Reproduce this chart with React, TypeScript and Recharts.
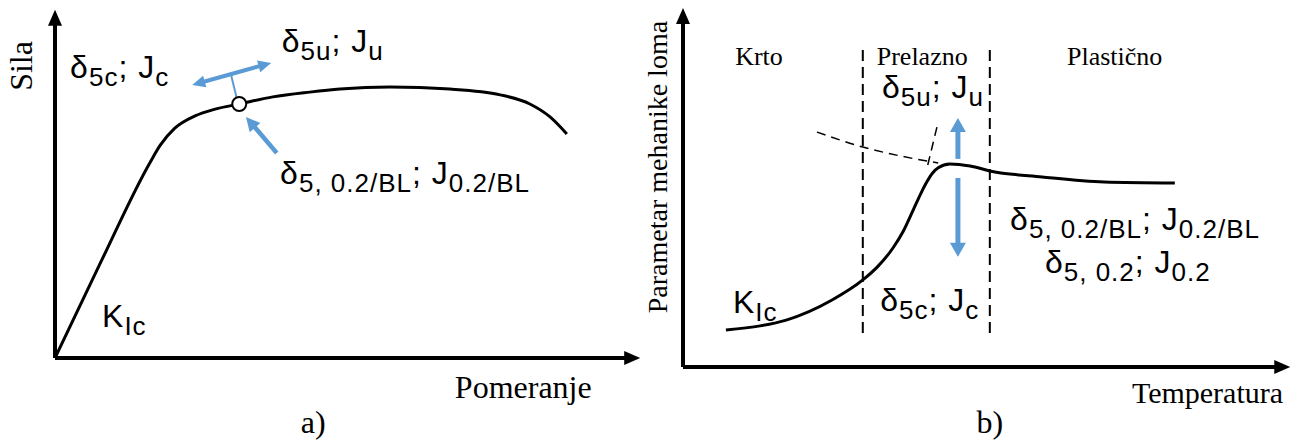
import React from 'react';
import { LineChart, Line, XAxis, YAxis, ReferenceLine, ReferenceDot } from 'recharts';

// ---------- Panel a) : Sila vs Pomeranje ----------
const forceCurve = [
  { x: 0, y: 0 },
  { x: 8.0, y: 27.6 },
  { x: 17.0, y: 57.6 },
  { x: 18.8, y: 62.6 },
  { x: 21.4, y: 67.6 },
  { x: 25.0, y: 71.2 },
  { x: 28.6, y: 73.2 },
  { x: 32.9, y: 74.7 },
  { x: 38.9, y: 76.8 },
  { x: 45.5, y: 78.2 },
  { x: 50.9, y: 79.1 },
  { x: 59.8, y: 79.7 },
  { x: 70.5, y: 79.1 },
  { x: 79.5, y: 77.4 },
  { x: 84.8, y: 74.7 },
  { x: 88.4, y: 70.9 },
  { x: 91.4, y: 65.9 },
];
const initiationPoint = { x: 32.9, y: 74.7 };
const aDoubleArrow = [{ x: 24.5, y: 80.3 }, { x: 38.6, y: 86.8 }];
const aStem = [{ x: 31.4, y: 83.5 }, { x: 32.4, y: 76.8 }];
const aPointerArrow = [{ x: 39.6, y: 60.3 }, { x: 34.1, y: 70.9 }];

// ---------- Panel b) : Parametar mehanike loma vs Temperatura ----------
const toughnessCurve = [
  { x: 7.4, y: 10.9 },
  { x: 13.3, y: 12.1 },
  { x: 17.8, y: 13.8 },
  { x: 25.7, y: 19.7 },
  { x: 31.0, y: 25.6 },
  { x: 33.6, y: 29.6 },
  { x: 36.2, y: 35.0 },
  { x: 38.0, y: 40.0 },
  { x: 39.7, y: 46.2 },
  { x: 41.0, y: 51.0 },
  { x: 42.1, y: 54.6 },
  { x: 43.0, y: 57.0 },
  { x: 44.0, y: 58.6 },
  { x: 46.0, y: 59.7 },
  { x: 49.5, y: 59.1 },
  { x: 53.1, y: 57.6 },
  { x: 61.9, y: 55.9 },
  { x: 72.6, y: 54.4 },
  { x: 84.8, y: 54.1 },
];
const extrapolatedCurve = [
  { x: 23.1, y: 69.1 },
  { x: 31.0, y: 64.7 },
  { x: 37.4, y: 62.1 },
  { x: 44.0, y: 60.0 },
];
const steepDashed = [
  { x: 42.2, y: 59.4 },
  { x: 44.0, y: 72.1 },
];
const transitionBounds = [31.0, 52.9];
const boundsRange = [10, 94.5];
const bUpArrow = [{ x: 47.4, y: 61.2 }, { x: 47.4, y: 73.2 }];
const bDownArrow = [{ x: 47.4, y: 55.6 }, { x: 47.4, y: 32.4 }];

// ---------- Text ----------
type Part = [string, boolean];
const aRich: { x: number; y: number; parts: Part[] }[] = [
  { x: 2.7, y: 82.4, parts: [['δ', false], ['5c', true], ['; J', false], ['c', true]] },
  { x: 40.5, y: 90.0, parts: [['δ', false], ['5u', true], ['; J', false], ['u', true]] },
  { x: 40.2, y: 51.2, parts: [['δ', false], ['5, 0.2/BL', true], ['; J', false], ['0.2/BL', true]] },
  { x: 8.4, y: 9.1, parts: [['K', false], ['Ic', true]] },
];
const bRich: { x: number; y: number; parts: Part[] }[] = [
  { x: 34.3, y: 79.1, parts: [['δ', false], ['5u', true], ['; J', false], ['u', true]] },
  { x: 34.0, y: 16.5, parts: [['δ', false], ['5c', true], ['; J', false], ['c', true]] },
  { x: 8.6, y: 15.9, parts: [['K', false], ['Ic', true]] },
  { x: 56.4, y: 40.3, parts: [['δ', false], ['5, 0.2/BL', true], ['; J', false], ['0.2/BL', true]] },
  { x: 62.4, y: 27.6, parts: [['δ', false], ['5, 0.2', true], ['; J', false], ['0.2', true]] },
];
const bZones = [
  { x: 9.0, y: 88.8, text: 'Krto' },
  { x: 33.4, y: 88.8, text: 'Prelazno' },
  { x: 66.2, y: 88.8, text: 'Plastično' },
];

const SERIF = '"Liberation Serif", "Times New Roman", serif';
const SANS = '"Liberation Sans", Arial, Helvetica, sans-serif';
const BLUE = '#5b9bd5';

const richShape = (parts: Part[]) => (p: any) => {
  let prevSub = false;
  const shift = 8;
  return (
    <text x={p.cx} y={p.cy} fontFamily={SANS} fontSize={32} letterSpacing={1} fill="#000">
      {parts.map(([t, isSub], i) => {
        let dy = 0;
        if (isSub && !prevSub) dy = shift;
        if (!isSub && prevSub) dy = -shift;
        prevSub = isSub;
        return (
          <tspan key={i} dy={dy} fontSize={isSub ? 26 : 32}>
            {t}
          </tspan>
        );
      })}
    </text>
  );
};

const plainShape = (text: string, size: number, anchor: string = 'start', rotate = false) => (p: any) => (
  <text
    x={p.cx}
    y={p.cy}
    fontFamily={SERIF}
    fontSize={size}
    textAnchor={anchor}
    fill="#000"
    transform={rotate ? `rotate(-90 ${p.cx} ${p.cy})` : undefined}
  >
    {text}
  </text>
);

const arrowShape = (color: string, width: number, hl: number, hw: number, both = false) => (p: any) => {
  const { x1, y1, x2, y2 } = p;
  const dx = x2 - x1;
  const dy = y2 - y1;
  const len = Math.hypot(dx, dy) || 1;
  const ux = dx / len;
  const uy = dy / len;
  const nx = -uy;
  const ny = ux;
  const head = (tx: number, ty: number, dx_: number, dy_: number) =>
    `${tx},${ty} ${tx - dx_ * hl + nx * hw},${ty - dy_ * hl + ny * hw} ${tx - dx_ * hl - nx * hw},${ty - dy_ * hl - ny * hw}`;
  const sx = both ? x1 + ux * (hl - 1) : x1;
  const sy = both ? y1 + uy * (hl - 1) : y1;
  const ex = x2 - ux * (hl - 1);
  const ey = y2 - uy * (hl - 1);
  return (
    <g>
      <line x1={sx} y1={sy} x2={ex} y2={ey} stroke={color} strokeWidth={width} />
      <polygon points={head(x2, y2, ux, uy)} fill={color} />
      {both && <polygon points={head(x1, y1, -ux, -uy)} fill={color} />}
    </g>
  );
};

const plainLine = (color: string, width: number) => (p: any) => (
  <line x1={p.x1} y1={p.y1} x2={p.x2} y2={p.y2} stroke={color} strokeWidth={width} />
);

const dashedLine = (p: any) => (
  <line x1={p.x1} y1={p.y1} x2={p.x2} y2={p.y2} stroke="#000" strokeWidth={2} strokeDasharray="11 6" />
);

export default function App() {
  return (
    <div style={{ position: 'absolute', left: 0, top: 0, width: 1298, height: 443, background: '#fff' }}>
      {/* Panel a */}
      <div style={{ position: 'absolute', left: 0, top: 0 }}>
        <LineChart width={649} height={443} margin={{ top: 18, right: 34, bottom: 85, left: 55 }}>
          <XAxis type="number" dataKey="x" domain={[0, 100]} hide allowDataOverflow />
          <YAxis type="number" dataKey="y" domain={[0, 100]} hide allowDataOverflow />
          <ReferenceLine
            segment={[{ x: 0, y: 0 }, { x: 0, y: 102.4 }]}
            ifOverflow="visible"
            shape={arrowShape('#000', 4, 16, 7)}
          />
          <ReferenceLine
            segment={[{ x: 0, y: 0 }, { x: 104.5, y: 0 }]}
            ifOverflow="visible"
            shape={arrowShape('#000', 4, 16, 7)}
          />
          <Line
            data={forceCurve}
            dataKey="y"
            type="monotone"
            stroke="#000"
            strokeWidth={3}
            dot={false}
            isAnimationActive={false}
          />
          <ReferenceLine segment={aStem} ifOverflow="visible" shape={plainLine(BLUE, 2)} />
          <ReferenceLine segment={aDoubleArrow} ifOverflow="visible" shape={arrowShape(BLUE, 4, 13, 6, true)} />
          <ReferenceLine segment={aPointerArrow} ifOverflow="visible" shape={arrowShape(BLUE, 4.5, 14, 7)} />
          <ReferenceDot
            x={initiationPoint.x}
            y={initiationPoint.y}
            r={7}
            fill="#fff"
            stroke="#000"
            strokeWidth={2}
            ifOverflow="visible"
          />
          {aRich.map((l, i) => (
            <ReferenceDot key={'ar' + i} x={l.x} y={l.y} r={0} ifOverflow="visible" shape={richShape(l.parts)} />
          ))}
          <ReferenceDot x={-4.1} y={85.9} r={0} ifOverflow="visible" shape={plainShape('Sila', 32, 'middle', true)} />
          <ReferenceDot x={71.4} y={-11.8} r={0} ifOverflow="visible" shape={plainShape('Pomeranje', 32)} />
          <ReferenceDot x={46.1} y={-22.1} r={0} ifOverflow="visible" shape={plainShape('a)', 32, 'middle')} />
        </LineChart>
      </div>

      {/* Panel b */}
      <div style={{ position: 'absolute', left: 620, top: 0 }}>
        <LineChart width={678} height={443} margin={{ top: 27, right: 35, bottom: 76, left: 63 }}>
          <XAxis type="number" dataKey="x" domain={[0, 100]} hide allowDataOverflow />
          <YAxis type="number" dataKey="y" domain={[0, 100]} hide allowDataOverflow />
          <ReferenceLine
            segment={[{ x: 0, y: 0 }, { x: 0, y: 105.6 }]}
            ifOverflow="visible"
            shape={arrowShape('#000', 4, 16, 7)}
          />
          <ReferenceLine
            segment={[{ x: 0, y: 0 }, { x: 104.7, y: 0 }]}
            ifOverflow="visible"
            shape={arrowShape('#000', 4, 16, 7)}
          />
          {transitionBounds.map((bx, i) => (
            <ReferenceLine
              key={'tb' + i}
              segment={[{ x: bx, y: boundsRange[0] }, { x: bx, y: boundsRange[1] }]}
              ifOverflow="visible"
              shape={dashedLine}
            />
          ))}
          <Line
            data={extrapolatedCurve}
            dataKey="y"
            type="monotone"
            stroke="#000"
            strokeWidth={1.5}
            strokeDasharray="9 6"
            dot={false}
            isAnimationActive={false}
          />
          <Line
            data={steepDashed}
            dataKey="y"
            type="linear"
            stroke="#000"
            strokeWidth={1.5}
            strokeDasharray="9 6"
            dot={false}
            isAnimationActive={false}
          />
          <Line
            data={toughnessCurve}
            dataKey="y"
            type="monotone"
            stroke="#000"
            strokeWidth={3}
            dot={false}
            isAnimationActive={false}
          />
          <ReferenceLine segment={bUpArrow} ifOverflow="visible" shape={arrowShape(BLUE, 5, 14, 8)} />
          <ReferenceLine segment={bDownArrow} ifOverflow="visible" shape={arrowShape(BLUE, 5, 14, 8)} />
          {bRich.map((l, i) => (
            <ReferenceDot key={'br' + i} x={l.x} y={l.y} r={0} ifOverflow="visible" shape={richShape(l.parts)} />
          ))}
          {bZones.map((z, i) => (
            <ReferenceDot key={'bz' + i} x={z.x} y={z.y} r={0} ifOverflow="visible" shape={plainShape(z.text, 26)} />
          ))}
          <ReferenceDot
            x={-2.8}
            y={58.8}
            r={0}
            ifOverflow="visible"
            shape={plainShape('Parametar mehanike loma', 28, 'middle', true)}
          />
          <ReferenceDot x={77.4} y={-10.6} r={0} ifOverflow="visible" shape={plainShape('Temperatura', 30)} />
          <ReferenceDot x={52.9} y={-19.4} r={0} ifOverflow="visible" shape={plainShape('b)', 32, 'middle')} />
        </LineChart>
      </div>
    </div>
  );
}
